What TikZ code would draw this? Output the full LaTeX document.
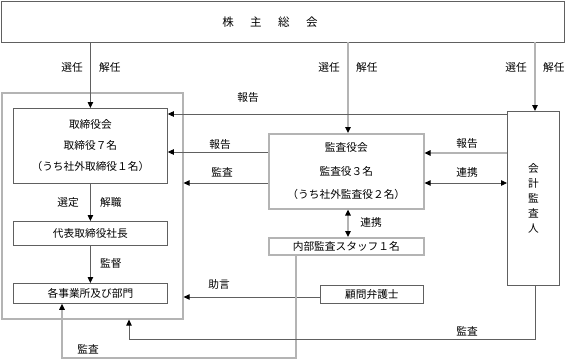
\documentclass[tikz,border=0pt]{standalone}
\usepackage{fontspec}
\newfontfamily\jp{Noto Sans CJK JP}
\usetikzlibrary{arrows.meta,calc}
\definecolor{dk}{HTML}{606060}
\definecolor{lg}{HTML}{B4B4B4}
\tikzset{
  dkline/.style={draw=dk, line width=0.8pt},
  lgline/.style={draw=lg, line width=1.6pt},
  dkbox/.style={dkline, rectangle, inner sep=0pt, anchor=north west, font=\jp\fontsize{10.7}{12}\selectfont},
  lgbox/.style={lgline, rectangle, inner sep=0pt, anchor=north west, font=\jp\fontsize{10.7}{12}\selectfont},
  lbl/.style={inner sep=0pt, font=\jp\fontsize{10.7}{12}\selectfont},
  arrowend/.style={-{Triangle[length=6pt,width=5.5pt,color=black]}},
  arrowboth/.style={{Triangle[length=6pt,width=5.5pt,color=black]}-{Triangle[length=6pt,width=5.5pt,color=black]}},
}
\begin{document}
\begin{tikzpicture}[x=1pt,y=-1pt]
\useasboundingbox (0,0) rectangle (565,359);
% boxes
\node[dkbox, minimum width=563pt, minimum height=41pt] (top) at (0.5,0.5) {};
\node[lbl, font=\jp\fontsize{11.5}{12}\selectfont] (title) at (270,22) {株\hspace{16.5pt}主\hspace{16.5pt}総\hspace{16.5pt}会};
\node[lgbox, minimum width=181pt, minimum height=226pt] (outer) at (1,92) {};
\node[dkbox, minimum width=154pt, minimum height=75pt, align=center, font=\jp\fontsize{10.7}{21}\selectfont] (tori) at (13,108) {取締役会\\取締役７名\\（うち社外取締役１名）};
\node[dkbox, minimum width=154pt, minimum height=24pt] (daihyo) at (13,221) {代表取締役社長};
\node[dkbox, minimum width=154pt, minimum height=20pt] (jigyo) at (13,283) {各事業所及び部門};
\node[lgbox, minimum width=155pt, minimum height=75pt, align=center, font=\jp\fontsize{10.7}{23.5}\selectfont] (kansa) at (268,133) {監査役会\\監査役３名\\（うち社外監査役２名）};
\node[lgbox, minimum width=155pt, minimum height=17pt] (naibu) at (268,237) {内部監査スタッフ１名};
\node[dkbox, minimum width=103pt, minimum height=18pt] (komon) at (320,285) {顧問弁護士};
\node[dkbox, minimum width=52pt, minimum height=174pt, align=center, font=\jp\fontsize{10.7}{15}\selectfont] (kaikei) at (507,111) {会\\計\\監\\査\\人};
% helper coordinates
\coordinate (mx) at (348,0);
\coordinate (rx) at (535,0);
\coordinate (y114) at (0,114);
\coordinate (y152) at (0,152);
\coordinate (y153) at (0,153);
\coordinate (y183) at (0,183);
\coordinate (y297) at (0,297);
\coordinate (nx) at (296,0);
\coordinate (bl) at (62,358);
\coordinate (br) at (296,358);
\coordinate (ml) at (129,339);
\coordinate (mr) at (535,339);
% connectors
\draw[dkline,arrowend] (top.south -| tori.north) -- (tori.north);
\draw[lgline,arrowend] (top.south -| mx) -- (kansa.north -| mx);
\draw[lgline,arrowend] (top.south -| rx) -- (kaikei.north -| rx);
\draw[dkline,arrowend] (kaikei.west |- y114) -- (tori.east |- y114);
\draw[dkline,arrowend] (kansa.west |- y152) -- (tori.east |- y152);
\draw[dkline,arrowend] (kansa.west |- y183) -- (outer.east |- y183);
\draw[lgline,line width=1.2pt,arrowend] (kaikei.west |- y153) -- (kansa.east |- y153);
\draw[dkline,arrowboth] (kansa.east |- y183) -- (kaikei.west |- y183);
\draw[lgline,arrowboth] (kansa.south -| mx) -- (naibu.north -| mx);
\draw[dkline,arrowend] (tori.south) -- (daihyo.north);
\draw[dkline,arrowend] (daihyo.south) -- (jigyo.north);
\draw[dkline,arrowend] (komon.west |- y297) -- (outer.east |- y297);
\draw[lgline,arrowend] (naibu.south -| nx) -- (br) -- (bl) -- (jigyo.south -| bl);
\draw[dkline,arrowend] (kaikei.south -| rx) -- (mr) -- (ml) -- (outer.south -| ml);
% labels
\node[lbl, anchor=east] (l1) at (83,67) {選任};
\node[lbl, anchor=west] (l2) at (99,67) {解任};
\node[lbl, anchor=east] (l3) at (340,67) {選任};
\node[lbl, anchor=west] (l4) at (356,67) {解任};
\node[lbl, anchor=east] (l5) at (527,67) {選任};
\node[lbl, anchor=west] (l6) at (543,67) {解任};
\node[lbl] (l7) at (248,97) {報告};
\node[lbl] (l8) at (220,144) {報告};
\node[lbl] (l9) at (222,172) {監査};
\node[lbl] (l10) at (467,143) {報告};
\node[lbl] (l11) at (467,172) {連携};
\node[lbl] (l12) at (371,222) {連携};
\node[lbl, anchor=east] (l13) at (79,202) {選定};
\node[lbl, anchor=west] (l14) at (100,202) {解職};
\node[lbl, anchor=west] (l15) at (100,263) {監督};
\node[lbl] (l16) at (219,284) {助言};
\node[lbl] (l17) at (88,349) {監査};
\node[lbl] (l18) at (467,331) {監査};
\end{tikzpicture}
\end{document}
